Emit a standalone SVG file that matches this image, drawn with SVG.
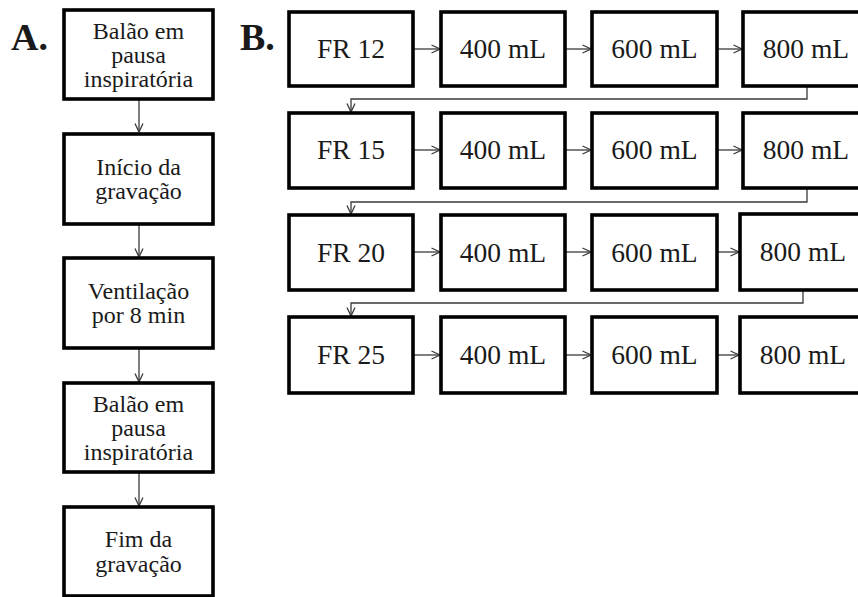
<svg xmlns="http://www.w3.org/2000/svg" width="858" height="597" viewBox="0 0 858 597">
<defs>
<marker id="ah" viewBox="0 0 10 10" refX="9.5" refY="5" markerWidth="10" markerHeight="10" markerUnits="userSpaceOnUse" orient="auto">
<path d="M1,1 L9.5,5 L1,9" fill="none" stroke="#3a3a3a" stroke-width="1.3"/>
</marker>
</defs>
<style>
.box{fill:#fff;stroke:#000;stroke-width:3.6}
.t{font-family:"Liberation Serif","Times New Roman",serif;fill:#1a1a1a;text-anchor:middle}
.a{font-size:24px}
.b{font-size:27.5px}
.lbl{font-family:"Liberation Serif","Times New Roman",serif;font-weight:bold;font-size:38px;fill:#1a1a1a}
.c{fill:none;stroke:#3a3a3a;stroke-width:1.3;marker-end:url(#ah)}
</style>
<rect width="858" height="597" fill="#fff"/>
<text class="lbl" x="11" y="50">A.</text>
<text class="lbl" x="240" y="50">B.</text>
<g id="connectors">
<path class="c" d="M139,100 V132"/>
<path class="c" d="M139,225 V257"/>
<path class="c" d="M139,349 V382"/>
<path class="c" d="M139,473 V506"/>
<path class="c" d="M414,49 H440"/>
<path class="c" d="M566,49 H591"/>
<path class="c" d="M718,49 H742"/>
<path class="c" d="M414,150 H440"/>
<path class="c" d="M566,150 H591"/>
<path class="c" d="M718,150 H742"/>
<path class="c" d="M414,252 H440"/>
<path class="c" d="M566,252 H591"/>
<path class="c" d="M718,252 H739"/>
<path class="c" d="M414,355 H440"/>
<path class="c" d="M566,355 H591"/>
<path class="c" d="M718,355 H739"/>
<path class="c" d="M807,87 V99 H351 V112"/>
<path class="c" d="M807,189 V202 H351 V214"/>
<path class="c" d="M803,291 V303 H351 V316"/>
</g>
<g id="a1"><rect class="box" x="64" y="10" width="149" height="89"/><text class="t a" x="138.5" y="39">Balão em</text><text class="t a" x="138.5" y="63">pausa</text><text class="t a" x="138.5" y="87">inspiratória</text></g>
<g id="a2"><rect class="box" x="64" y="134" width="149" height="90"/><text class="t a" x="138.5" y="175">Início da</text><text class="t a" x="138.5" y="199">gravação</text></g>
<g id="a3"><rect class="box" x="64" y="258" width="149" height="90"/><text class="t a" x="138.5" y="299">Ventilação</text><text class="t a" x="138.5" y="323">por 8 min</text></g>
<g id="a4"><rect class="box" x="64" y="383" width="149" height="89"/><text class="t a" x="138.5" y="412">Balão em</text><text class="t a" x="138.5" y="436">pausa</text><text class="t a" x="138.5" y="460">inspiratória</text></g>
<g id="a5"><rect class="box" x="64" y="507" width="149" height="89"/><text class="t a" x="138.5" y="547">Fim da</text><text class="t a" x="138.5" y="572">gravação</text></g>
<g id="r1c1"><rect class="box" x="289" y="12" width="124" height="74"/><text class="t b" x="351" y="58">FR 12</text></g>
<g id="r1c2"><rect class="box" x="441" y="12" width="124" height="74"/><text class="t b" x="503" y="58">400 mL</text></g>
<g id="r1c3"><rect class="box" x="592" y="12" width="125" height="74"/><text class="t b" x="654.5" y="58">600 mL</text></g>
<g id="r1c4"><rect class="box" x="743" y="12" width="125" height="74"/><text class="t b" x="806" y="58">800 mL</text></g>
<g id="r2c1"><rect class="box" x="289" y="113" width="124" height="75"/><text class="t b" x="351" y="159">FR 15</text></g>
<g id="r2c2"><rect class="box" x="441" y="113" width="124" height="75"/><text class="t b" x="503" y="159">400 mL</text></g>
<g id="r2c3"><rect class="box" x="592" y="113" width="125" height="75"/><text class="t b" x="654.5" y="159">600 mL</text></g>
<g id="r2c4"><rect class="box" x="743" y="113" width="125" height="75"/><text class="t b" x="806" y="159">800 mL</text></g>
<g id="r3c1"><rect class="box" x="289" y="215" width="124" height="75"/><text class="t b" x="351" y="262">FR 20</text></g>
<g id="r3c2"><rect class="box" x="441" y="215" width="124" height="75"/><text class="t b" x="503" y="262">400 mL</text></g>
<g id="r3c3"><rect class="box" x="592" y="215" width="125" height="75"/><text class="t b" x="654.5" y="262">600 mL</text></g>
<g id="r3c4"><rect class="box" x="740" y="214" width="128" height="76"/><text class="t b" x="803" y="261">800 mL</text></g>
<g id="r4c1"><rect class="box" x="289" y="317" width="124" height="76"/><text class="t b" x="351" y="364">FR 25</text></g>
<g id="r4c2"><rect class="box" x="441" y="317" width="124" height="76"/><text class="t b" x="503" y="364">400 mL</text></g>
<g id="r4c3"><rect class="box" x="592" y="317" width="125" height="76"/><text class="t b" x="654.5" y="364">600 mL</text></g>
<g id="r4c4"><rect class="box" x="740" y="317" width="128" height="76"/><text class="t b" x="803" y="364">800 mL</text></g>
</svg>
